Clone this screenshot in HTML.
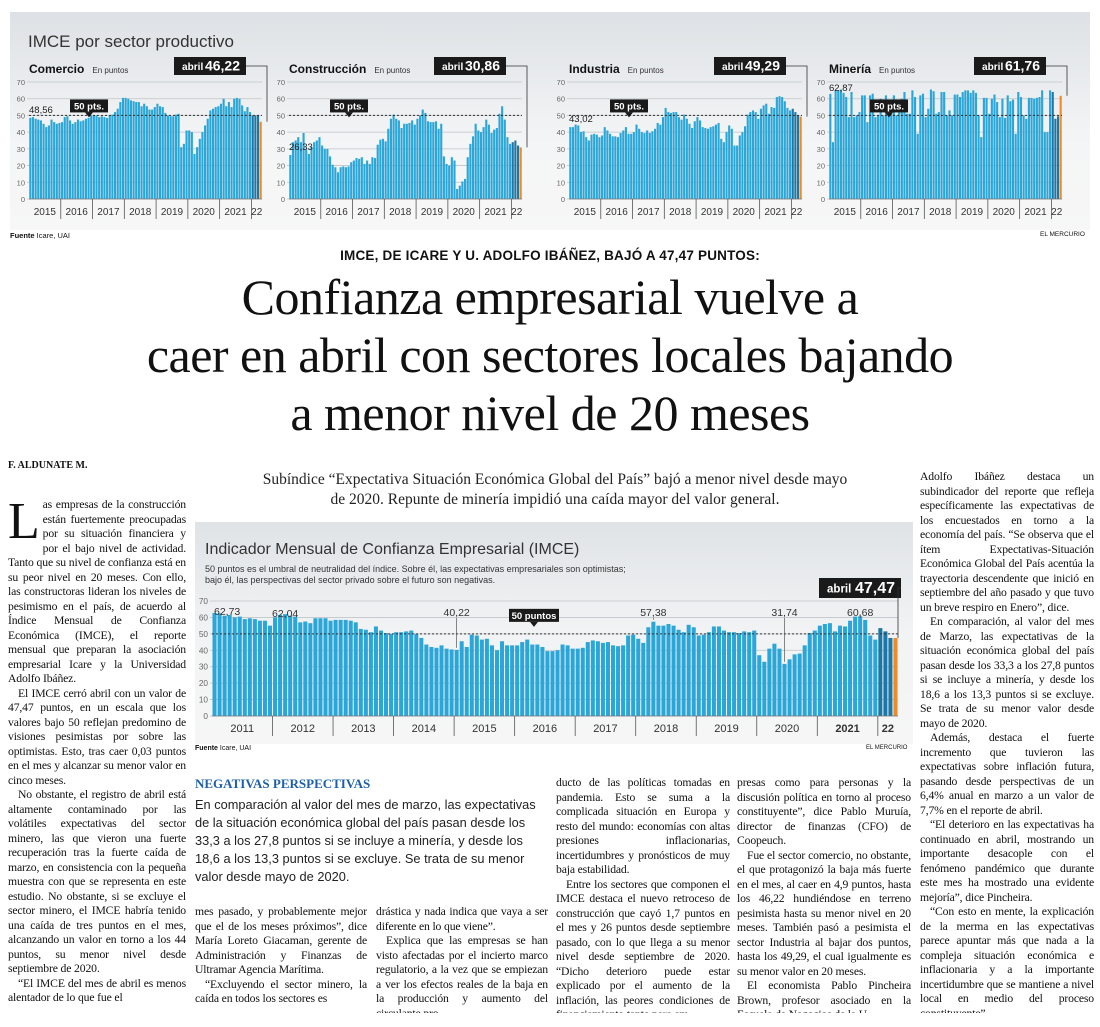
<!DOCTYPE html>
<html><head><meta charset="utf-8">
<style>
*{margin:0;padding:0;box-sizing:border-box}
body{width:1100px;height:1027px;background:#fff;position:relative;overflow:hidden;font-family:"Liberation Serif",serif;color:#111}
.abs{position:absolute}
.col{position:absolute;font-family:"Liberation Serif",serif;font-size:11.7px;line-height:14.5px;text-align:justify;letter-spacing:-0.15px;overflow:hidden;hyphens:auto}
.col p{text-indent:10px}
.sans{font-family:"Liberation Sans",sans-serif}
</style></head><body>
<div class="abs" style="left:10px;top:12px;width:1080px;height:218px;background:linear-gradient(#dde1e5,#f4f5f6 60%,#f7f7f7)"></div>
<div class="abs sans" style="left:28px;top:32px;font-size:17px;color:#333">IMCE por sector productivo</div>
<svg class="abs" id="topchart" style="left:0;top:0" width="1100" height="240"></svg>
<div class="abs sans" style="left:10px;top:231px;font-size:7.5px"><b>Fuente</b> Icare, UAI</div>
<div class="abs sans" style="left:1040px;top:231px;font-size:6.5px">EL MERCURIO</div>
<div class="abs sans" style="left:0;width:1100px;top:248px;text-align:center;font-size:13.5px;font-weight:bold;letter-spacing:0.2px">IMCE, DE ICARE Y U. ADOLFO IBÁÑEZ, BAJÓ A 47,47 PUNTOS:</div>
<div class="abs" style="left:0;width:1100px;top:268px;text-align:center;font-size:50px;line-height:58px;letter-spacing:-0.5px">Confianza empresarial vuelve a<br>caer en abril con sectores locales bajando<br>a menor nivel de 20 meses</div>
<div class="abs" style="left:8px;top:460px;font-size:10px;font-weight:bold">F. ALDUNATE M.</div>
<div class="abs" style="left:195px;width:720px;top:470px;text-align:center;font-size:15.5px;line-height:20px;color:#222">Subíndice “Expectativa Situación Económica Global del País” bajó a menor nivel desde mayo<br>de 2020. Repunte de minería impidió una caída mayor del valor general.</div>

<div class="col" style="left:8px;top:498px;width:178px;height:515px"><p style="text-indent:0"><span style="float:left;font-size:52px;line-height:44px;margin:2px 3px 0 0">L</span>as empresas de la construcción están fuertemente preocupadas por su situación financiera y por el bajo nivel de actividad. Tanto que su nivel de confianza está en su peor nivel en 20 meses. Con ello, las constructoras lideran los niveles de pesimismo en el país, de acuerdo al Índice Mensual de Confianza Económica (IMCE), el reporte mensual que preparan la asociación empresarial Icare y la Universidad Adolfo Ibáñez.</p><p>El IMCE cerró abril con un valor de 47,47 puntos, en un escala que los valores bajo 50 reflejan predomino de visiones pesimistas por sobre las optimistas. Esto, tras caer 0,03 puntos en el mes y alcanzar su menor valor en cinco meses.</p><p>No obstante, el registro de abril está altamente contaminado por las volátiles expectativas del sector minero, las que vieron una fuerte recuperación tras la fuerte caída de marzo, en consistencia con la pequeña muestra con que se representa en este estudio. No obstante, si se excluye el sector minero, el IMCE habría tenido una caída de tres puntos en el mes, alcanzando un valor en torno a los 44 puntos, su menor nivel desde septiembre de 2020.</p><p>“El IMCE del mes de abril es menos alentador de lo que fue el</p></div>

<div class="abs" style="left:195px;top:522px;width:718px;height:222px;background:linear-gradient(#dfe3e6,#f2f3f4 50%,#f6f6f6)"></div>
<div class="abs sans" style="left:205px;top:541px;font-size:16px;color:#333">Indicador Mensual de Confianza Empresarial (IMCE)</div>
<div class="abs sans" style="left:205px;top:564px;font-size:9px;line-height:10.5px;color:#333">50 puntos es el umbral de neutralidad del índice. Sobre él, las expectativas empresariales son optimistas;<br>bajo él, las perspectivas del sector privado sobre el futuro son negativas.</div>
<svg class="abs" id="mainchart" style="left:0;top:0" width="1100" height="760"></svg>
<div class="abs sans" style="left:195px;top:745px;font-size:7px"><b>Fuente</b> Icare, UAI</div>
<div class="abs sans" style="left:866px;top:745px;font-size:6px">EL MERCURIO</div>

<div class="abs" style="left:195px;top:776px;font-size:13px;font-weight:bold;color:#1d5fa8">NEGATIVAS PERSPECTIVAS</div>
<div class="abs sans" style="left:195px;top:796px;width:355px;font-size:12.8px;line-height:18px;color:#222">En comparación al valor del mes de marzo, las expectativas de la situación económica global del país pasan desde los 33,3 a los 27,8 puntos si se incluye a minería, y desde los 18,6 a los 13,3 puntos si se excluye. Se trata de su menor valor desde mayo de 2020.</div>
<div class="col" style="left:195px;top:905px;width:172px;height:108px"><p style="text-indent:0">mes pasado, y probablemente mejor que el de los meses próximos”, dice María Loreto Giacaman, gerente de Administración y Finanzas de Ultramar Agencia Marítima.</p><p>“Excluyendo el sector minero, la caída en todos los sectores es</p></div>
<div class="col" style="left:376px;top:905px;width:172px;height:108px"><p style="text-indent:0">drástica y nada indica que vaya a ser diferente en lo que viene”.</p><p>Explica que las empresas se han visto afectadas por el incierto marco regulatorio, a la vez que se empiezan a ver los efectos reales de la baja en la producción y aumento del circulante pro-</p></div>
<div class="col" style="left:556px;top:776px;width:174px;height:237px"><p style="text-indent:0">ducto de las políticas tomadas en pandemia. Esto se suma a la complicada situación en Europa y resto del mundo: economías con altas presiones inflacionarias, incertidumbres y pronósticos de muy baja estabilidad.</p><p>Entre los sectores que componen el IMCE destaca el nuevo retroceso de construcción que cayó 1,7 puntos en el mes y 26 puntos desde septiembre pasado, con lo que llega a su menor nivel desde septiembre de 2020. “Dicho deterioro puede estar explicado por el aumento de la inflación, las peores condiciones de financiamiento tanto para em-</p></div>
<div class="col" style="left:737px;top:776px;width:174px;height:237px"><p style="text-indent:0">presas como para personas y la discusión política en torno al proceso constituyente”, dice Pablo Muruía, director de finanzas (CFO) de Coopeuch.</p><p>Fue el sector comercio, no obstante, el que protagonizó la baja más fuerte en el mes, al caer en 4,9 puntos, hasta los 46,22 hundiéndose en terreno pesimista hasta su menor nivel en 20 meses. También pasó a pesimista el sector Industria al bajar dos puntos, hasta los 49,29, el cual igualmente es su menor valor en 20 meses.</p><p>El economista Pablo Pincheira Brown, profesor asociado en la Escuela de Negocios de la U.</p></div>
<div class="col" style="left:920px;top:470px;width:174px;height:543px"><p style="text-indent:0">Adolfo Ibáñez destaca un subindicador del reporte que refleja específicamente las expectativas de los encuestados en torno a la economía del país. “Se observa que el ítem Expectativas-Situación Económica Global del País acentúa la trayectoria descendente que inició en septiembre del año pasado y que tuvo un breve respiro en Enero”, dice.</p><p>En comparación, al valor del mes de Marzo, las expectativas de la situación económica global del país pasan desde los 33,3 a los 27,8 puntos si se incluye a minería, y desde los 18,6 a los 13,3 puntos si se excluye. Se trata de su menor valor desde mayo de 2020.</p><p>Además, destaca el fuerte incremento que tuvieron las expectativas sobre inflación futura, pasando desde perspectivas de un 6,4% anual en marzo a un valor de 7,7% en el reporte de abril.</p><p>“El deterioro en las expectativas ha continuado en abril, mostrando un importante desacople con el fenómeno pandémico que durante este mes ha mostrado una evidente mejoría”, dice Pincheira.</p><p>“Con esto en mente, la explicación de la merma en las expectativas parece apuntar más que nada a la compleja situación económica e inflacionaria y a la importante incertidumbre que se mantiene a nivel local en medio del proceso constituyente”.</p></div>

<script>
// ---- data ----
const sectorNames = ["Comercio","Construcción","Industria","Minería"];
const sectorLast = ["46,22","30,86","49,29","61,76"];
const sectorFirst = ["48,56","26,33","43,02","62,87"];
const comercio = [48.56,49,48,47.5,47,45,43,44,47.5,46,45,45.5, 46,49,49.5,47,45,46,47.5,46.5,47,48,48.5,50, 50,50,49,49.5,49,48.5,50,50.5,52,54,58,60.5, 60.5,60,59,58.5,58,58,55.5,57,55.5,53.5,53.5,55, 57,55.5,55,51.5,50,49.5,49.5,50.5,51,31,33,41, 41,40,27,31,36,40,44,48,53,54,55,55.5, 57,60,55.5,58,55,60,60.5,60,56,52.5,55,52, 50,50,50,46.22];
const construccion = [26.33,34,35,37,34,39.5,29.5,27,31,34,35,37, 32,30,30,25.5,20.5,19,16,19,19.5,19,19.5,22, 23,24.5,24,25,21,23,21,25,24.5,32.5,35.5,36, 34.5,42,48,50.5,48,47,42.5,45,45,45.5,47,44.5, 48,50,53.5,51.5,46.5,46,46,46.5,42,45,25.5,21, 20,25,23,6,8,10.5,12,25,33,37.5,45,41, 40,43,47.5,44.5,39.5,41.5,42.5,51,55.5,47.5,37,33, 34,35,32,30.86];
const industria = [43.02,43,44.5,44,40,40.5,37,35,38.5,39,38.5,37, 38,43,41,39,37.5,37.5,37,39.5,41,43,39,39, 40,44.5,42,40,39.5,41,39.5,40.5,42,45.5,44.5,49, 54.5,52,51.5,52,52,49,47.5,50.5,48,45,42.5,46.5, 49,47,43,42.5,42,43,43.5,44.5,45.5,36,34,40, 44,42,32,32,38,40,43.5,50.5,52,53,52,48, 54,56,57,51,55,54.5,61,61.5,61,58.5,54.5,53, 54,52,50,49.29];
const mineria = [62.87,34,65,65,65.5,63.5,61,49,64,49,50,52, 62,62,46,62,63,49,50,60,50,62,50,51, 62,50,52,60,64,51,51,65,61,39,62,63, 49,54,65.5,64.5,51,52,64,64,50,53,50,62.5, 62.5,61,64,65,65,63.5,65,63.5,50,37,60.5,60.5, 51,60,62.5,58,49,60,48.5,62,58.5,59.5,39,64, 61,50,48,60.5,60.5,60,60.5,61,65,40,40,65, 64,48,49.5,61.76];
const sectorData = [comercio,construccion,industria,mineria];
const sectorYears = ["2015","2016","2017","2018","2019","2020","2021","22"];
const yTicks = [0,10,20,30,40,50,60,70];

const imceYears = ["2011","2012","2013","2014","2015","2016","2017","2018","2019","2020","2021","22"];
const imce = [62.73,62.5,61,61.5,60,60.5,59,59.5,59,58,58,55,
 60,61.5,62.04,61,60.5,57,57.5,56.5,59.5,59.5,59.5,58,
 58.5,58.5,58.5,58,57,53,52.5,51,54.5,52,50.5,50,
 51,51,51.5,52,50,47.5,43.5,42,41.5,43,41,40.5,
 40.22,45.5,42,49.5,49,46.5,47,43,40,45.5,43,43,
 43,45,46.5,43.5,43.5,42,39.5,39.5,40,43.5,43,41,
 41,41.5,45,46,45.5,44.5,45,43,42.5,43,49,49.5,
 47,44.5,54,57.38,55,55,56,55,52.5,51,55.5,54,
 49,49.5,51,54.5,54.5,52,51,51,50.5,51.5,51,52,
 37,33,41,44,41,31.74,34.5,37.5,38,43,50.5,52,
 55,56,56.5,51.5,55,54.5,58,60.5,60.68,58.5,49,46.5,
 53.5,51.5,47.5,47.47];
const imceNotes = [[0,"62,73"],[14,"62,04"],[48,"40,22"],[87,"57,38"],[113,"31,74"],[128,"60,68"]];

const NS="http://www.w3.org/2000/svg";
function mk(svg,tag,attrs,txt){const e=document.createElementNS(NS,tag);for(const k in attrs)e.setAttribute(k,attrs[k]);if(txt!==undefined)e.textContent=txt;svg.appendChild(e);return e;}

function drawChart(svg,opt,data,years,name){
  const {x0,x1,yTop,yBot,fs}=opt;
  const n=data.length, bw=(x1-x0)/n;
  const ys=v=>yBot-(v/70)*(yBot-yTop);
  const xs=i=>x0+i*bw;
  const g=mk(svg,'g',{});
  
  
  yTicks.forEach(t=>{
    const l=mk(g,'line',{x1:x0-2,x2:x1,y1:ys(t),y2:ys(t),stroke:'#bfc4c8','stroke-width':0.8});
    
    
    const tx=mk(g,'text',{x:x0-4,y:ys(t)+3,'font-size':fs*0.75,'text-anchor':'end',fill:'#666','font-family':'Liberation Sans, sans-serif'},t);
    
    
  });
  data.forEach((v,i)=>{
    const last=i===n-1;
    const r=mk(g,'rect',{x:xs(i)+bw*0.1,y:ys(v),width:bw*0.8,height:yBot-ys(v),fill:last?'#f08a24':(i>=n-4?'#1b77a8':'#2aa6d9')});
    
    
  });
  const d=mk(g,'line',{x1:x0,x2:x1,y1:ys(50),y2:ys(50),stroke:'#333','stroke-width':1,'stroke-dasharray':'2,2'});
  
  
  mk(g,'line',{x1:x0,x2:x1,y1:yBot,y2:yBot,stroke:'#777','stroke-width':0.8});
  years.forEach((y,k)=>{
    const s=k*12, e=Math.min(n,(k+1)*12);
    if(k>0){mk(g,'line',{x1:xs(s),x2:xs(s),y1:yBot,y2:yBot+20,stroke:'#555','stroke-width':0.8});}
    const bold=opt.boldRecent&&(y==="2021"||y==="22");
    const t=mk(g,'text',{x:(xs(s)+xs(e))/2,y:yBot+16,'font-size':fs,'text-anchor':'middle',fill:'#333','font-family':'Liberation Sans, sans-serif','font-weight':bold?'bold':'normal'},y);
    
    
  });
  return {xs,ys,bw};
}
function label50(svg,cx,cy,txt,w,fs){
  mk(svg,'rect',{x:cx-w/2,y:cy-15,width:w,height:13,fill:'#1a1a1a'});
  mk(svg,'path',{d:`M${cx-4} ${cy-2} L${cx+4} ${cy-2} L${cx} ${cy+3}Z`,fill:'#1a1a1a'});
  const t=mk(svg,'text',{x:cx,y:cy-5,'font-size':fs,'font-weight':'bold','text-anchor':'middle',fill:'#fff','font-family':'Liberation Sans, sans-serif'},txt);
  
  
}
function callout(svg,x,y,w,h,val,fs,lineX,lineYEnd){
  mk(svg,'rect',{x:x,y:y,width:w,height:h,fill:'#1a1a1a'});
  const t1=mk(svg,'text',{x:x+8,y:y+h*0.72,'font-size':fs*0.72,'font-weight':'bold',fill:'#fff','font-family':'Liberation Sans, sans-serif'},'abril');
  
  
  const t2=mk(svg,'text',{x:x+w-6,y:y+h*0.76,'font-size':fs,'font-weight':'bold','text-anchor':'end',fill:'#fff','font-family':'Liberation Sans, sans-serif'},val);
  
  
  mk(svg,'polyline',{points:`${x+w},${y+h/2} ${lineX},${y+h/2} ${lineX},${lineYEnd}`,fill:'none',stroke:'#333','stroke-width':0.8});
}

const topSvg=document.getElementById('topchart');
const starts=[29,289,569,829];
sectorData.forEach((data,p)=>{
  const x0=starts[p], x1=x0+233;
  const c=drawChart(topSvg,{x0,x1,yTop:82,yBot:199,fs:10},data,sectorYears,'sector-'+p);
  const h=mk(topSvg,'text',{x:x0,y:73,'font-size':12,'font-weight':'bold',fill:'#111','font-family':'Liberation Sans, sans-serif'},sectorNames[p]);
  
  
  const tw=h.getComputedTextLength();
  const sub=mk(topSvg,'text',{x:x0+tw+8,y:73,'font-size':8,fill:'#333','font-family':'Liberation Sans, sans-serif'},'En puntos');
  
  
  const f=mk(topSvg,'text',{x:x0,y:c.ys(data[0])-(p==3?3:5),'font-size':9.5,fill:'#222','font-family':'Liberation Sans, sans-serif'},sectorFirst[p]);
  
  
  label50(topSvg,x0+60,c.ys(50)-1,'50 pts.',38,9.5);
  callout(topSvg,x0+145,57,72,18,sectorLast[p],14,x0+238,c.ys(data[data.length-1]));
});

const mainSvg=document.getElementById('mainchart');
const mc=drawChart(mainSvg,{x0:212,x1:898,yTop:601,yBot:716,fs:11,boldRecent:true},imce,imceYears,'imce');
imceNotes.forEach(([i,t])=>{
  const x=mc.xs(i)+mc.bw/2;
  if(i!==0 && i!==14){mk(mainSvg,'line',{x1:x,x2:x,y1:mc.ys(imce[i])-2,y2:618,stroke:'#555','stroke-width':0.7});}
  const tx=mk(mainSvg,'text',{x:i===0?214:x,y:i===0?615:(i===14?617:616),'font-size':10.5,'text-anchor':i===0?'start':'middle',fill:'#333','font-family':'Liberation Sans, sans-serif'},t);
  
  
});
label50(mainSvg,534,mc.ys(50)-10,'50 puntos',50,9.5);
callout(mainSvg,819,578,82,20,'47,47',16,898,mc.ys(47.47));
</script>
</body></html>
